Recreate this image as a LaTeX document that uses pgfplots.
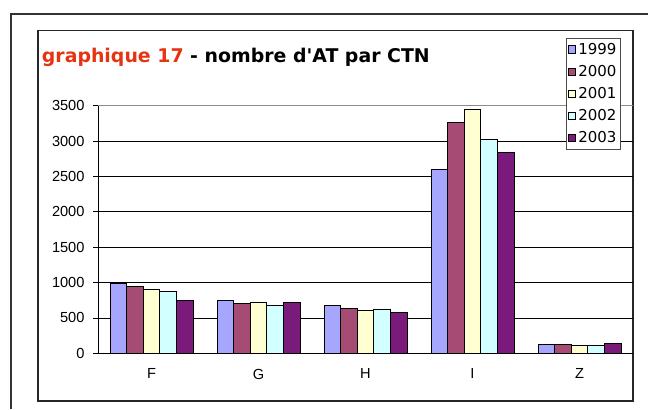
\documentclass[border=0pt]{standalone}
\usepackage{fontspec}
\setmainfont{DejaVu Sans}[Ligatures=TeXOff]
\newfontfamily\tickfont{Liberation Sans}
\usepackage{pgfplots}
\pgfplotsset{compat=1.18}
\definecolor{cA}{HTML}{A6A6FF}
\definecolor{cB}{HTML}{A64B74}
\definecolor{cC}{HTML}{FFFFD2}
\definecolor{cD}{HTML}{D2FFFF}
\definecolor{cE}{HTML}{7A1A7A}
\definecolor{titlered}{HTML}{E63312}
\pgfplotstableread{
x  y99  y00  y01  y02  y03
0  990  941  895  867  744
1  753  697  716  678  725
2  673  640  603  626  570
3  2596 3265 3440 3029 2836
4  131  131  108  113  136
}\data
\begin{document}
\begin{tikzpicture}[x=1bp,y=1bp]
\path[use as bounding box] (0,0) rectangle (648,409);
\draw[line width=2bp, color=black!80] (11,0) -- (11,395) -- (648,395);
\draw[line width=1.3bp, color=black!85] (38,8) rectangle (633,378.3);
\node[anchor=base west, inner sep=0pt, font=\bfseries\fontsize{18.9bp}{21bp}\selectfont] at (41.7,347) {\textcolor{titlered}{graphique 17} - nombre d'AT par CTN};
\begin{axis}[
  at={(98bp,55.7bp)}, anchor=south west,
  scale only axis, width=535bp, height=247.6bp,
  xmin=-0.5, xmax=4.5, ymin=0, ymax=3500,
  axis x line*=bottom, axis y line*=left,
  axis line style={line width=1bp, black},
  ybar=0pt, bar width=16.6bp,
  xtick={0,1,2,3,4}, xticklabels={F,G,H,I,Z},
  major x tick style={draw=none},
  extra x ticks={-0.5,0.5,1.5,2.5,3.5}, extra x tick labels={},
  extra x tick style={major tick length=5bp, tick align=outside, grid=none, tick style={draw=black, line width=0.8bp}},
  ytick={0,500,...,3500},
  tick align=outside, major tick length=5bp,
  y tick style={draw=black, line width=0.8bp},
  ymajorgrids, grid style={black, line width=0.8bp},
  ticklabel style={font=\tickfont\fontsize{14.6bp}{16bp}\selectfont},
  /pgf/number format/assume math mode=true,
  /pgf/number format/1000 sep={},
  yticklabel style={xshift=-5bp},
  xticklabel style={yshift=-7bp},
  every axis plot/.append style={draw=black, line width=1bp},
  legend style={at={(0.874,1.273)}, anchor=north west, draw=black!70, line width=0.8bp,
    font=\fontsize{15bp}{17bp}\selectfont, inner xsep=2bp, inner ysep=2.5bp,
    row sep=5.6bp, /tikz/every even column/.append style={column sep=0bp}},
  legend cell align=left,
  legend image code/.code={\draw[#1, line width=0.8bp] (0bp,-3.6bp) rectangle (7.5bp,3.6bp);},
]
\addplot[fill=cA] table[x=x,y=y99]{\data};
\addplot[fill=cB] table[x=x,y=y00]{\data};
\addplot[fill=cC] table[x=x,y=y01]{\data};
\addplot[fill=cD] table[x=x,y=y02]{\data};
\addplot[fill=cE] table[x=x,y=y03]{\data};
\legend{1999,2000,2001,2002,2003}
\draw[black!45, line width=1bp] (axis cs:-0.5,3500) -- (axis cs:4.5,3500);
\end{axis}
\end{tikzpicture}
\end{document}
